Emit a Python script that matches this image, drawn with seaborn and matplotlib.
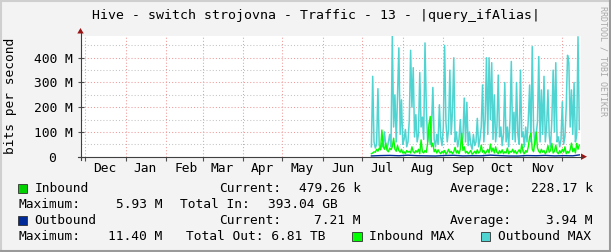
import matplotlib
matplotlib.use("Agg")
import numpy as np
import pandas as pd
import seaborn as sns
import matplotlib.pyplot as plt
import matplotlib.dates as mdates
from matplotlib.patches import Rectangle, Polygon
from matplotlib.lines import Line2D
from datetime import datetime

# ---------------- data (values in Mbit/s) ----------------
title = "Hive - switch strojovna - Traffic - 13 - |query_ifAlias|"
ylabel = "bits per second"
watermark = "RRDTOOL / TOBI OETIKER"
data_start = "2010-07-08"          # first daily sample
x_start = datetime(2009, 11, 27, 13, 25)
x_end = datetime(2010, 12, 15, 7, 0)

outbound_max = [
    40, 325, 60, 35, 50, 275, 45, 30, 55, 40, 100, 45, 30, 60, 90, 40, 488, 120, 250, 60,
    250, 440, 90, 230, 50, 70, 110, 40, 60, 150, 430, 200, 360, 80, 170, 60, 90, 340, 120, 160,
    70, 460, 200, 60, 110, 50, 130, 280, 70, 40, 90, 50, 210, 80, 45, 120, 450, 140, 60, 110,
    350, 90, 180, 400, 60, 100, 40, 70, 150, 55, 80, 237, 60, 220, 45, 100, 50, 30, 90, 45,
    60, 155, 40, 70, 120, 290, 60, 150, 400, 90, 400, 150, 380, 70, 250, 60, 120, 330, 80, 120,
    45, 90, 300, 60, 120, 40, 150, 385, 70, 180, 60, 300, 90, 50, 350, 80, 100, 40, 120, 60,
    150, 290, 60, 445, 120, 50, 90, 140, 405, 60, 270, 90, 325, 60, 120, 270, 85, 40, 150, 350,
    100, 380, 60, 80, 40, 70, 222, 50, 80, 200, 410, 380, 120, 270, 90, 300, 60, 85, 485, 110,
]
inbound_max = [
    12, 15, 20, 18, 30, 22, 35, 28, 108, 40, 30, 55, 25, 20, 35, 28, 40, 75, 30, 22,
    45, 25, 18, 30, 15, 20, 12, 25, 18, 22, 15, 40, 20, 15, 25, 18, 30, 12, 68, 20,
    15, 25, 18, 55, 130, 163, 40, 55, 20, 30, 15, 28, 18, 12, 22, 15, 25, 10, 18, 30,
    15, 22, 12, 20, 38, 15, 25, 12, 30, 95, 25, 40, 15, 22, 12, 18, 25, 10, 15, 22,
    12, 28, 15, 20, 47, 18, 25, 12, 20, 30, 15, 51, 20, 35, 15, 40, 18, 12, 25, 15,
    28, 12, 20, 15, 35, 12, 22, 18, 30, 15, 25, 12, 20, 28, 15, 51, 20, 12, 25, 18,
    40, 81, 95, 30, 20, 60, 100, 35, 22, 15, 30, 18, 25, 12, 20, 45, 18, 25, 54, 15,
    22, 47, 18, 12, 25, 15, 30, 18, 40, 12, 22, 15, 28, 55, 20, 34, 15, 54, 30, 47,
]
# weekly averages
week_dates = ["2010-07-08", "2010-07-15", "2010-07-22", "2010-07-29", "2010-08-05", "2010-08-12",
              "2010-08-19", "2010-08-26", "2010-09-02", "2010-09-09", "2010-09-16", "2010-09-23",
              "2010-09-30", "2010-10-07", "2010-10-14", "2010-10-21", "2010-10-28", "2010-11-04",
              "2010-11-11", "2010-11-18", "2010-11-25", "2010-12-02", "2010-12-09", "2010-12-14"]
outbound_avg = [3.1, 4.5, 5.2, 3.8, 6.0, 4.1, 3.5, 2.9, 4.8, 5.5, 3.2, 4.0,
                3.7, 6.2, 4.4, 3.0, 2.8, 4.6, 3.9, 5.1, 3.3, 4.2, 3.6, 7.21]
inbound_avg = [0.2, 0.3, 0.25, 0.4, 0.2, 0.15, 0.3, 0.22, 0.18, 0.35, 0.2, 0.25,
               0.3, 0.15, 0.2, 0.28, 0.22, 0.19, 0.3, 0.24, 0.2, 0.26, 0.21, 0.48]

ytick_vals = [0, 100, 200, 300, 400]
ytick_labels = ["0  ", "100 M", "200 M", "300 M", "400 M"]

legend_rows = [
    ("Inbound", "479.26 k", "228.17 k", "5.93 M", "Total In:", "393.04 GB"),
    ("Outbound", "7.21 M", "3.94 M", "11.40 M", "Total Out:", "6.81 TB"),
]

C_IN = "#00CF00"
C_OUT = "#002A97"
C_INMAX = "#00FF00"
C_OUTMAX = "#4FD4D2"

# ---------------- figure ----------------
W, H = 611, 252
MONO = "DejaVu Sans Mono"
FS = 9.3
fig = plt.figure(figsize=(W / 100, H / 100), dpi=100, facecolor="#F3F3F3")


def fx(p):
    return p / W


def fy(p):
    return 1 - p / H


X0, X1, Y0, Y1 = 80.5, 581.0, 156.7, 36.0
ax = fig.add_axes([fx(X0), fy(Y0), fx(X1) - fx(X0), fy(Y1) - fy(Y0)])
ax.set_facecolor("white")

dates = pd.date_range(data_start, periods=len(outbound_max), freq="D")
wd = pd.to_datetime(week_dates)
df = pd.DataFrame({"date": dates,
                   "outmax": np.array(outbound_max) * 1e6,
                   "inmax": np.array(inbound_max) * 1e6})
dw = pd.DataFrame({"date": wd,
                   "outavg": np.array(outbound_avg) * 1e6,
                   "inavg": np.array(inbound_avg) * 1e6})

sns.lineplot(data=df, x="date", y="outmax", color=C_OUTMAX, lw=1.1, ax=ax, zorder=3)
ax.fill_between(dw["date"], dw["inavg"], color=C_IN, lw=0, zorder=4)
sns.lineplot(data=df, x="date", y="inmax", color=C_INMAX, lw=1.0, ax=ax, zorder=5)
sns.lineplot(data=dw, x="date", y="outavg", color=C_OUT, lw=1.0, ax=ax, zorder=6)

ax.set_xlim(x_start, x_end)
ax.set_ylim(0, max(outbound_max) * 1e6)
ax.set_xlabel("")
ax.set_ylabel("")

for s in ax.spines.values():
    s.set_visible(False)

# y ticks / grid
ax.set_yticks([v * 1e6 for v in ytick_vals])
ax.set_yticklabels(ytick_labels, family=MONO, fontsize=FS)
ax.set_yticks([v * 1e6 for v in range(50, 500, 100)], minor=True)
ax.tick_params(axis="y", which="major", length=4, width=0.8, direction="inout",
               color="#505050", pad=3.6)
ax.tick_params(axis="y", which="minor", length=0)
# x ticks / grid
ax.xaxis.set_major_locator(mdates.MonthLocator(bymonthday=1))
ax.xaxis.set_minor_locator(mdates.MonthLocator(bymonthday=16))
ax.xaxis.set_major_formatter(plt.NullFormatter())
ax.xaxis.set_minor_formatter(mdates.DateFormatter("%b"))
ax.tick_params(axis="x", which="major", length=3, width=0.8, direction="out", color="#505050")
ax.tick_params(axis="x", which="minor", length=0, pad=4)
for lab in ax.get_xticklabels(minor=True):
    lab.set_family(MONO)
    lab.set_fontsize(FS)

ax.grid(which="major", axis="both", color="#F19A9A", lw=0.75, ls=(0, (1, 2)), zorder=1)
ax.grid(which="minor", axis="y", color="#C4C4C4", lw=0.75, ls=(0, (1, 2)), zorder=1)
ax.set_axisbelow(True)

# axis lines and arrows
tf = fig.transFigure
fig.add_artist(Line2D([fx(77.5), fx(582)], [fy(156.7), fy(156.7)], transform=tf, color="#404040", lw=0.8))
fig.add_artist(Line2D([fx(80.5), fx(80.5)], [fy(160), fy(33)], transform=tf, color="#404040", lw=0.8))
fig.add_artist(Polygon([[fx(77.3), fy(33.5)], [fx(83.7), fy(33.5)], [fx(80.5), fy(28)]],
                       closed=True, transform=tf, color="#9A1515", lw=0))
fig.add_artist(Polygon([[fx(581), fy(153.5)], [fx(581), fy(159.9)], [fx(587), fy(156.7)]],
                       closed=True, transform=tf, color="#9A1515", lw=0))

# title, labels
fig.text(fx(316.5), fy(15), title, ha="center", va="center", family=MONO, fontsize=FS + 0.2)
fig.text(fx(11), fy(96), ylabel, ha="center", va="center", rotation=90, family=MONO, fontsize=FS)
fig.text(fx(603.5), fy(61), watermark, ha="center", va="center", rotation=270,
         family=MONO, fontsize=6.0, color="#A8A8A8")


# legend
def t(x, y, s, ha="left"):
    fig.text(fx(x), fy(y), s, ha=ha, va="center", family=MONO, fontsize=FS, color="black")


def swatch(x, y, c):
    fig.add_artist(Rectangle((fx(x), fy(y + 4.5)), 9 / W, 9 / H, transform=tf,
                             facecolor=c, edgecolor="#303030", lw=0.6))


rows_y = [[188.5, 204.5], [220.5, 236.5]]
for (name, cur, avg, mx, totlab, tot), (ya, yb), c in zip(legend_rows, rows_y, [C_IN, C_OUT]):
    swatch(17.5, ya, c)
    t(34.5, ya, name)
    t(219, ya, "Current:")
    t(361, ya, cur, ha="right")
    t(450, ya, "Average:")
    t(593, ya, avg, ha="right")
    t(18.5, yb, "Maximum:")
    t(162, yb, mx, ha="right")
t(180, 204.5, "Total In:")
t(268.5, 204.5, "393.04 GB")
t(186, 236.5, "Total Out: 6.81 TB")
swatch(352.5, 236.5, C_INMAX)
t(369, 236.5, "Inbound MAX")
swatch(480.5, 236.5, C_OUTMAX)
t(498, 236.5, "Outbound MAX")

# 3D frame
fig.add_artist(Line2D([0, 1], [fy(0.5), fy(0.5)], transform=tf, color="#CFCFCF", lw=1.5))
fig.add_artist(Line2D([fx(0.5), fx(0.5)], [0, 1], transform=tf, color="#CFCFCF", lw=1.5))
fig.add_artist(Line2D([0, 1], [fy(251.2), fy(251.2)], transform=tf, color="#9A9A9A", lw=1.5))
fig.add_artist(Line2D([fx(610.2), fx(610.2)], [0, 1], transform=tf, color="#9A9A9A", lw=1.5))

fig.savefig("out.png", dpi=100, facecolor=fig.get_facecolor())
